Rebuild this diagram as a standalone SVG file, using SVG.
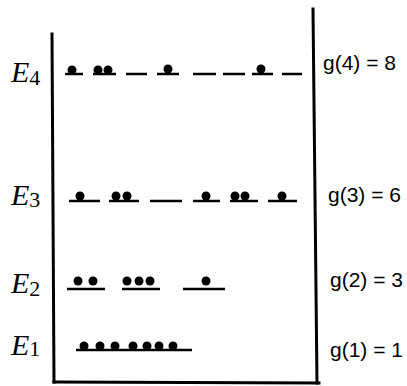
<svg xmlns="http://www.w3.org/2000/svg" width="407" height="386" viewBox="0 0 407 386">
<style>
.ax{stroke:#000;stroke-width:3;fill:none;stroke-linecap:square}
.lv{stroke:#000;stroke-width:2.5}
.e{font-family:"Liberation Serif",serif;font-style:italic;font-size:30px;fill:#000}
.s{font-family:"Liberation Serif",serif;font-style:normal;font-size:22px;fill:#000}
.g{font-family:"Liberation Sans",Arial,sans-serif;font-size:21px;fill:#000}
circle{fill:#000}
</style>
<rect width="407" height="386" fill="#fff"/>
<g id="frame">
<path class="ax" d="M52,34 L54,382"/>
<path class="ax" d="M313,9 L317,383"/>
<path class="ax" d="M54,382 L319,383"/>
</g>
<g id="E4">
<text class="e" x="11" y="82">E<tspan class="s" dy="3">4</tspan></text>
<path class="lv" d="M65,74H83M93,74H116M126,74H147M157,74H179M193,74H216M223,74H245M252,74H273M282,74H302"/>
<circle cx="72" cy="70" r="4.5"/>
<circle cx="98" cy="70" r="4.5"/><circle cx="108" cy="70" r="4.5"/>
<circle cx="168" cy="69" r="4.5"/>
<circle cx="261" cy="69" r="4.5"/>
<text class="g" x="323" y="70">g(4) = 8</text>
</g>
<g id="E3">
<text class="e" x="11" y="205">E<tspan class="s" dy="2">3</tspan></text>
<path class="lv" d="M69,201H100M109,201H139M150,201H182M193,201H220M230,201H258M268,201H297"/>
<circle cx="80" cy="196" r="4.5"/>
<circle cx="116" cy="196" r="4.5"/><circle cx="127" cy="196" r="4.5"/>
<circle cx="206" cy="196" r="4.5"/>
<circle cx="235" cy="196" r="4.5"/><circle cx="245" cy="196" r="4.5"/>
<circle cx="282" cy="196" r="4.5"/>
<text class="g" x="328" y="202">g(3) = 6</text>
</g>
<g id="E2">
<text class="e" x="11" y="293">E<tspan class="s" dy="3">2</tspan></text>
<path class="lv" d="M67,289H105M122,289H160M183,289H225"/>
<circle cx="78" cy="281" r="4.5"/><circle cx="93" cy="281" r="4.5"/>
<circle cx="127" cy="281" r="4.5"/><circle cx="139" cy="281" r="4.5"/><circle cx="150" cy="281" r="4.5"/>
<circle cx="206" cy="281" r="4.5"/>
<text class="g" x="330" y="287">g(2) = 3</text>
</g>
<g id="E1">
<text class="e" x="11" y="355">E<tspan class="s" dy="1">1</tspan></text>
<path class="lv" d="M76,350H192"/>
<circle cx="84" cy="346" r="4.5"/><circle cx="100" cy="346" r="4.5"/><circle cx="115" cy="346" r="4.5"/>
<circle cx="133" cy="346" r="4.5"/><circle cx="147" cy="346" r="4.5"/><circle cx="159" cy="346" r="4.5"/><circle cx="173" cy="346" r="4.5"/>
<text class="g" x="330" y="357">g(1) = 1</text>
</g>
</svg>
